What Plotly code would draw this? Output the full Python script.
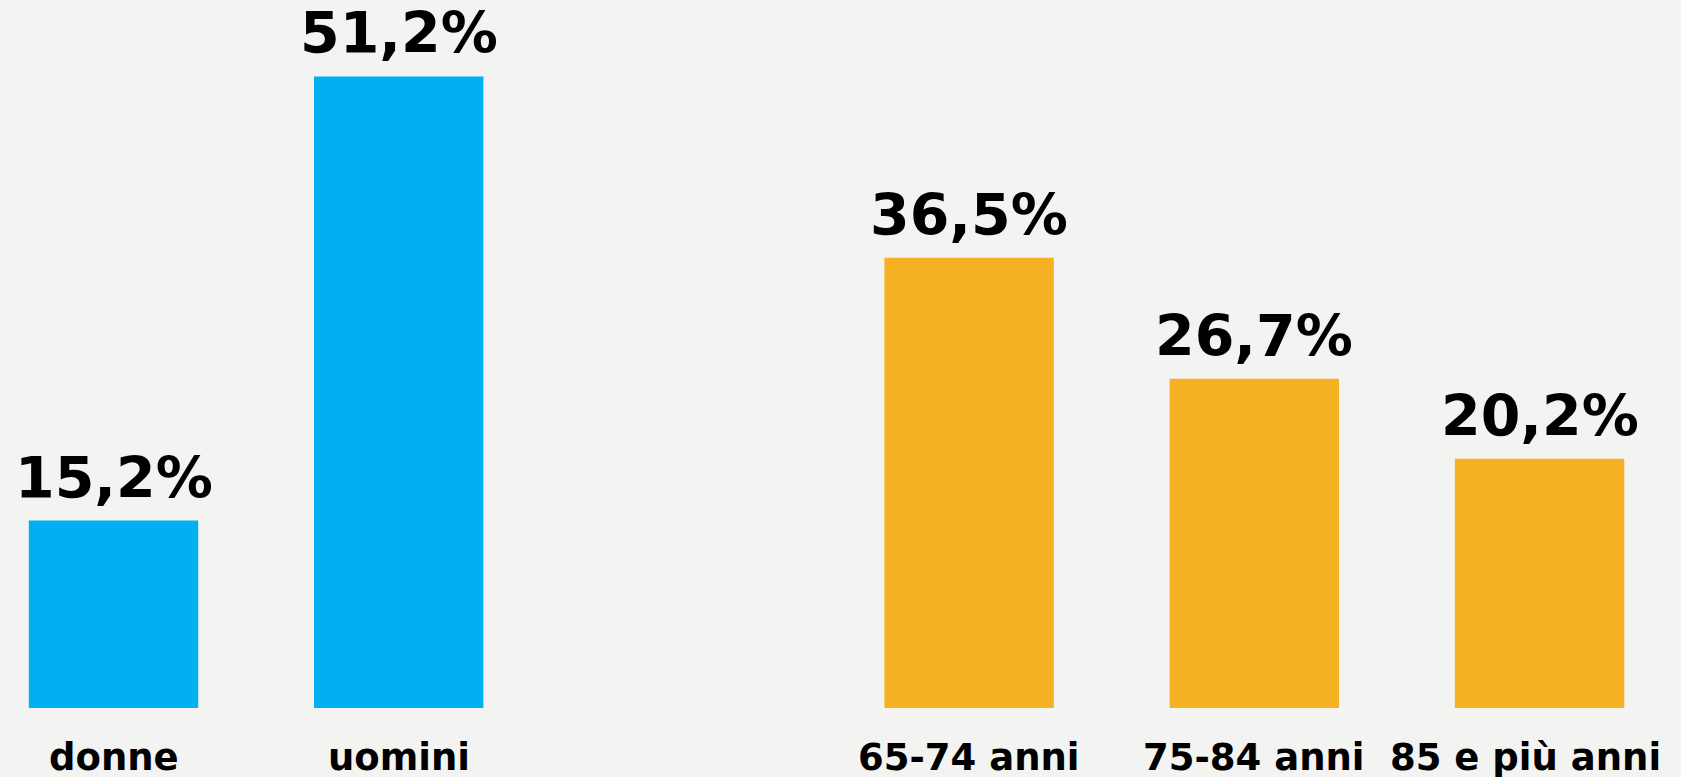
import plotly.graph_objects as go

categories = ["donne", "uomini", " ", "65-74 anni", "75-84 anni", "85 e più anni"]
values = [15.2, 51.2, None, 36.5, 26.7, 20.2]
value_labels = ["15,2%", "51,2%", "", "36,5%", "26,7%", "20,2%"]
colors = ["#00B0F0", "#00B0F0", "#00B0F0", "#F6B122", "#F6B122", "#F6B122"]

FONT = "DejaVu Sans"

fig = go.Figure(go.Bar(
    x=categories,
    y=values,
    marker=dict(color=colors, line=dict(width=0)),
    cliponaxis=False,
    hoverinfo="skip",
))

annotations = []
for i, (cat, val, lab) in enumerate(zip(categories, values, value_labels)):
    if val is None:
        continue
    # value label above bar
    annotations.append(dict(
        x=cat, y=val, xref="x", yref="y", text=lab, showarrow=False,
        xanchor="center", yanchor="bottom", yshift=8,
        font=dict(family=FONT, size=57, color="#000000", weight="bold"),
    ))
    # category label below axis
    last = i == len(categories) - 1
    annotations.append(dict(
        x=cat, y=0, xref="x", yref="y", text=cat, showarrow=False,
        xanchor="center", yanchor="top", yshift=-26, xshift=-14 if last else 0,
        font=dict(family=FONT, size=37, color="#000000", weight="bold"),
    ))

fig.update_layout(
    width=1681, height=777,
    margin=dict(l=0, r=0, t=0, b=69),
    paper_bgcolor="#F3F3F1",
    plot_bgcolor="#F3F3F1",
    bargap=0.406,
    showlegend=False,
    annotations=annotations,
    xaxis=dict(
        type="category",
        range=[-0.398, 5.496],
        showgrid=False, zeroline=False, showline=False, ticks="",
        showticklabels=False,
    ),
    yaxis=dict(range=[0, 57.4], visible=False, showgrid=False, zeroline=False),
)

fig.write_html(
    "out.html",
    config={"displayModeBar": False},
    post_script="document.body.style.margin='0';document.body.style.background='#F3F3F1';",
)
